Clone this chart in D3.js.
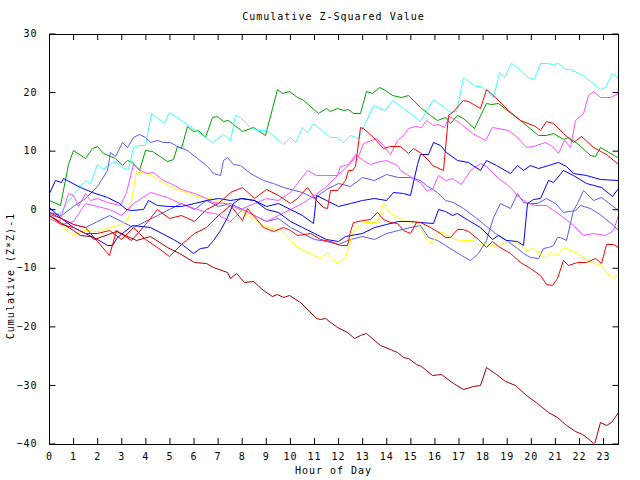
<!DOCTYPE html>
<html><head><meta charset="utf-8">
<script src="https://cdn.jsdelivr.net/npm/d3@7"></script>
<style>
body{margin:0;background:#fff;}
text{font-family:"DejaVu Sans Mono","Liberation Mono",monospace;font-size:10px;letter-spacing:1px;fill:#000;}
</style></head><body>
<svg id="c" width="640" height="480"></svg>
<script>
const title = "Cumulative Z-Squared Value";
const xTitle = "Hour of Day";
const yTitle = "Cumulative (Z*Z)-1";
const hourTicks = d3.range(0, 24);
const valueTicks = [-40, -30, -20, -10, 0, 10, 20, 30];

const sGreen = [[0,1.6],[0.46,0.7],[0.8,7.8],[1.0,10.1],[1.49,8.8],[1.77,10.5],[1.98,10.8],[2.25,9.6],[2.74,8.8],[3.02,7.5],[3.25,8.4],[3.43,8.1],[3.75,6.7],[3.98,10.1],[4.26,9.9],[4.88,8.2],[5.16,8.5],[5.3,10.8],[5.5,10.4],[5.74,14.2],[5.99,13.4],[6.2,13.5],[6.47,12.4],[6.75,15.8],[6.96,15.9],[7.23,15.1],[7.44,15.3],[8.0,13.4],[8.45,14.0],[8.96,12.7],[9.45,20.5],[9.66,19.9],[9.96,20.2],[10.28,19.1],[10.49,18.8],[11.18,16.4],[11.5,17.2],[11.66,16.8],[11.94,17.2],[12.21,16.9],[12.42,17.1],[12.63,16.5],[12.9,16.4],[13.15,20.2],[13.39,19.9],[13.69,20.8],[13.94,20.4],[14.22,19.5],[14.63,19.2],[14.91,19.5],[15.39,17.4],[15.81,16.1],[16.09,15.2],[16.43,15.7],[16.64,14.8],[16.92,16.0],[17.19,15.6],[17.64,13.8],[18.15,18.2],[18.36,17.9],[18.64,18.2],[19.2,16.2],[19.54,15.2],[20.3,12.7],[20.65,12.7],[20.93,13.0],[21.34,12.0],[21.55,12.3],[21.9,11.3],[22.45,9.3],[22.66,9.1],[22.86,10.6],[23.56,9.0],[23.63,8.7]];
const sCyan = [[0,0.3],[0.25,-0.8],[0.5,-0.5],[0.8,1.5],[1.1,3],[1.5,5],[1.7,4.5],[2.0,7.7],[2.23,6.8],[2.39,7.5],[2.74,8.2],[3.08,7.0],[3.29,6.8],[3.5,10.7],[3.75,11.0],[3.98,10.9],[4.23,16.5],[4.77,14.7],[4.99,16.6],[5.71,14.5],[6.47,12.4],[6.75,11.4],[7.23,12.8],[7.51,11.9],[7.72,16.0],[7.93,15.7],[8.34,14.1],[8.62,13.5],[9.03,13.5],[9.72,11.1],[10.0,12.3],[10.2,11.5],[10.49,14.1],[10.69,13.2],[10.97,14.7],[11.66,12.3],[11.94,12.4],[12.21,11.5],[12.49,12.7],[12.83,12.1],[13.46,17.8],[13.94,16.9],[14.22,18.6],[14.98,16.4],[15.39,15.1],[15.92,18.9],[16.43,17.2],[16.64,16.6],[16.89,16.8],[17.17,22.5],[17.67,21.0],[17.95,21.0],[18.44,19.1],[18.67,23.4],[18.88,22.5],[19.16,24.9],[19.41,24.3],[19.89,22.5],[20.14,22.2],[20.4,24.9],[20.65,24.9],[20.93,24.8],[21.13,24.9],[21.41,23.9],[21.62,23.9],[22.17,22.9],[22.86,20.5],[23.07,20.9],[23.39,23.2],[23.63,22.6]];
const sMagentaA = [[0,-1],[0.4,-2],[0.8,2.7],[1.0,2.4],[1.2,0.5],[1.49,2.7],[1.7,1.6],[2.0,2.0],[2.39,1.3],[2.95,0.7],[3.2,3],[3.5,7.8],[3.78,6.7],[4.05,6.1],[4.33,6.4],[4.74,5.0],[5.02,4.4],[5.5,3.5],[6.0,2.7],[6.5,2],[6.82,1.3],[7.3,1],[7.93,0.1],[8.5,1],[9,2],[9.5,1.5],[10,3],[10.28,4.4],[10.69,6.7],[11.1,5.8],[11.52,5.8],[11.94,5.8],[12.08,7.3],[12.42,7.8],[12.7,9.5],[12.83,9.1],[13.04,11.3],[13.59,12.1],[13.87,11.0],[14.15,9.5],[14.43,11.8],[14.7,12.7],[14.91,13.8],[15.19,14.2],[15.46,14.0],[15.67,15.2],[15.92,14.4],[16.15,14.5],[16.4,14.1],[16.61,15.9],[17.05,14.7],[17.54,13.0],[18.09,11.8],[18.41,14.1],[19.06,13.5],[19.41,12.4],[19.82,10.7],[20.1,10.8],[20.58,11.5],[20.86,10.8],[21.13,9.6],[21.38,11.8],[21.62,10.6],[21.83,15.2],[22.17,16.4],[22.38,19.5],[22.59,20.1],[22.86,19.1],[23.28,19.2],[23.63,19.8]];
const sMagentaB = [[0,-1.5],[0.5,-2.5],[1,-2],[1.5,1],[2,0.5],[2.5,0],[3,-1],[3.5,1],[4.19,3.0],[4.88,2.1],[5.43,1.0],[6.0,0.2],[6.54,-0.4],[6.89,-0.7],[7.5,-2],[8,0],[8.5,-1],[9,-2],[9.5,-1],[10,0],[10.5,1],[11,2.5],[11.5,4],[12,6],[12.4,7.5],[12.76,9.3],[13.04,8.4],[13.32,7.8],[13.59,8.1],[14.0,8.4],[14.43,7.5],[14.56,6.7],[15.25,5.0],[15.39,4.7],[15.67,3.3],[15.88,3.4],[16.15,5.8],[16.43,5.0],[16.71,5.3],[17.12,4.3],[17.47,6.7],[17.88,7.9],[18.16,7.3],[18.64,5.3],[19.06,4.1],[19.41,2.4],[19.82,1.3],[20.17,0.7],[20.65,0.7],[20.93,-0.1],[21.34,-1.3],[21.76,-2.7],[22.17,-4.4],[22.59,-4.0],[23.07,-4.4],[23.42,-3.6],[23.63,-1.0]];
const sRedA = [[0,-0.5],[0.5,-1.5],[1,-2.5],[1.5,-3],[2,-5.5],[2.5,-7.8],[2.8,-3.6],[3.4,-5.3],[4,-2.5],[4.5,0],[5,-1.5],[5.5,-1],[6,-2],[6.5,0],[7,1],[7.5,3],[8,3.8],[8.5,2],[9,3.5],[9.5,2.5],[10,1],[10.28,1.9],[10.69,3.8],[11.1,1.6],[11.38,0.4],[11.52,0.2],[11.66,3.3],[11.94,3.3],[12.28,5.0],[12.42,6.7],[12.56,6.7],[12.7,7.3],[12.93,14.0],[13.04,13.8],[13.46,12.4],[13.87,10.4],[14.15,10.8],[14.56,10.8],[14.91,9.6],[15.12,10.4],[15.46,9.6],[15.81,8.1],[15.88,7.5],[16.36,6.7],[16.57,16.1],[16.71,16.6],[17.17,18.6],[17.4,18.5],[17.88,17.2],[18.13,20.5],[18.51,19.1],[19.06,16.9],[19.54,15.2],[20.17,14.2],[20.4,13.5],[20.65,15.1],[20.93,14.8],[21.34,13.0],[21.76,11.4],[22.1,12.5],[22.59,10.7],[23.14,9.5],[23.63,7.8]];
const sRedB = [[0,-1],[0.5,-2.5],[1,-3],[1.5,-4],[2,-4],[2.5,-3.5],[3,-5],[3.5,-3],[4,-5],[4.5,-6.5],[5,-8],[5.5,-6],[6,-4],[6.5,-3],[7,-1],[7.51,0.7],[8.0,-1.8],[8.2,0.2],[8.89,-3.0],[9.31,-3.8],[9.72,-3.1],[10.0,-3.6],[10.28,-4.4],[10.83,-4.1],[11.24,-5.0],[11.66,-5.5],[12.07,-6.1],[12.35,-6.1],[12.49,-3.8],[12.63,-2.1],[13.04,-1.8],[13.32,-1.6],[13.6,-0.4],[13.87,-1.6],[14.15,-2.1],[14.43,-2.4],[14.7,-3.6],[14.98,-4.1],[15.25,-2.1],[15.39,-2.1],[15.81,-3.0],[16.22,-4.1],[16.43,-4.8],[16.64,-4.8],[16.92,-3.3],[17.19,-3.4],[17.4,-3.8],[17.81,-5.0],[18.15,-6.4],[18.37,-5.4],[18.64,-6.3],[19.13,-7.5],[19.54,-9.0],[19.96,-10.1],[20.37,-11.2],[20.65,-12.7],[20.9,-12.9],[21.07,-11.8],[21.34,-8.7],[21.55,-9.5],[21.9,-9.0],[22.31,-9.0],[22.66,-8.4],[22.93,-9.2],[23.14,-5.9],[23.42,-5.9],[23.63,-6.4]];
const sDarkRed = [[0,-1.0],[0.46,-2.1],[1.0,-3.6],[1.3,-4.4],[1.7,-4.6],[1.85,-5.0],[2.8,-3.8],[3.6,-5.3],[4.2,-4.6],[4.9,-6.4],[5.4,-7.5],[6.0,-9.0],[6.5,-9.2],[6.8,-9.9],[7.4,-10.7],[7.5,-11.8],[7.75,-10.9],[8.1,-12.4],[8.45,-12.3],[8.89,-13.8],[9.24,-14.9],[9.45,-14.5],[9.72,-15.0],[9.97,-14.7],[10.41,-15.8],[11.1,-18.5],[11.24,-18.8],[11.45,-18.5],[11.94,-20.1],[12.35,-21.0],[12.65,-22.0],[12.9,-21.5],[13.15,-21.2],[13.73,-23.2],[14.15,-23.9],[14.43,-24.3],[14.7,-25.2],[14.9,-25.4],[15.25,-26.4],[15.46,-26.8],[15.88,-28.3],[16.29,-28.2],[16.78,-29.6],[17.17,-30.7],[17.61,-30.1],[17.91,-30.0],[18.13,-26.9],[18.57,-28.2],[18.92,-29.3],[19.34,-30.0],[19.82,-31.7],[20.24,-33.1],[20.72,-34.7],[21.07,-35.4],[21.48,-36.8],[21.83,-37.8],[22.13,-38.3],[22.45,-39.4],[22.61,-40.0],[22.86,-36.4],[23.11,-36.8],[23.35,-36.3],[23.63,-34.6]];
const sBlueA = [[0,2.8],[0.25,5.0],[0.5,4.7],[0.6,5.3],[1.3,3.8],[1.8,3.0],[2.4,2.1],[2.9,1.0],[3.2,0],[3.4,-0.1],[3.9,0],[4.12,1.6],[4.5,0.8],[5,0.5],[5.5,0.5],[6,1],[6.5,1.5],[7,2],[7.5,1.5],[8,2],[8.5,1.5],[9,0.5],[9.5,1],[10,0],[10.5,-1],[10.95,-2.4],[11.1,2.4],[11.5,1.5],[12,0.5],[12.5,1],[13,1.5],[13.5,2],[14,1.5],[14.29,3.0],[14.7,2.7],[14.98,2.4],[15.26,7.8],[15.39,9.5],[15.74,9.4],[15.92,11.5],[16.22,11.0],[16.5,9.8],[16.92,8.4],[17.4,8.1],[17.88,6.7],[18.15,8.4],[18.57,7.5],[19.13,6.2],[19.41,7.5],[19.68,6.7],[19.96,7.5],[20.3,7.1],[20.72,7.5],[21.13,8.1],[21.48,7.3],[21.76,6.1],[22.31,5.8],[22.86,5.1],[23.63,5.0]];
const sBlueB = [[0,0.3],[0.5,-1.5],[1,-3],[1.5,-4],[2,-5],[2.39,-6.1],[2.6,-6.1],[2.81,-4.7],[3.43,-2.7],[4.19,-3.0],[5.16,-5.0],[5.57,-6.1],[5.99,-7.4],[6.27,-6.7],[6.54,-6.4],[6.82,-5.3],[7.1,-3.6],[7.37,-1.3],[7.65,1.0],[7.93,1.9],[8.5,1.5],[9,0],[9.5,-0.5],[10,-2],[10.5,-3],[11,-4],[11.5,-5],[12,-5.5],[12.3,-4.5],[13,-4],[13.5,-3],[14,-2.5],[14.5,-2],[15,-2],[15.39,-2.1],[15.95,-2.4],[16.15,0.1],[16.43,-0.3],[16.71,-1.0],[16.92,-0.7],[17.4,-1.8],[17.88,-3.0],[18.37,-5.0],[18.64,-4.4],[18.99,-5.3],[19.41,-5.5],[19.68,-6.1],[19.85,1.0],[20.1,1.7],[20.37,1.9],[20.72,5.0],[20.93,4.7],[21.34,6.7],[21.76,5.8],[22.31,4.4],[22.93,3.8],[23.39,2.3],[23.63,3.7]];
const sYellow = [[0,-1],[0.46,-2.7],[1.0,-4.4],[1.42,-3.6],[2.05,-3.8],[2.5,-3],[3,-2.5],[3.3,-1.5],[3.6,6.5],[4.2,6],[5,4],[6,2.5],[7,1.5],[7.51,0.7],[7.93,-0.1],[8.89,-2.7],[9.45,-3.6],[9.59,-3.3],[10.28,-6.4],[11.24,-8.4],[11.52,-7.3],[11.94,-9.2],[12.28,-8.1],[12.63,-3.8],[13.04,-2.1],[13.6,-2.1],[13.87,1.0],[14.15,-0.7],[14.7,-1.8],[15.26,-2.4],[15.74,-5.5],[15.88,-5.8],[16.15,-3.8],[16.43,-4.1],[16.78,-5.0],[17.19,-5.3],[17.61,-5.3],[17.81,-6.1],[18.16,-5.8],[18.57,-6.4],[19.13,-5.0],[19.54,-6.1],[19.82,-7.0],[20.1,-6.7],[20.58,-8.4],[20.79,-7.3],[21.07,-7.8],[21.34,-6.4],[21.9,-7.5],[22.45,-9.0],[22.93,-9.5],[23.35,-11.8],[23.63,-11.1]];
const sSlateA = [[0,-0.5],[0.5,-1],[1,0.5],[1.5,2],[2,4],[2.39,6.7],[2.53,9.8],[2.74,9.1],[3.02,11.4],[3.25,10.7],[3.5,12.4],[3.75,12.8],[3.98,12.4],[4.19,11.4],[4.47,11.9],[4.74,11.4],[5.02,11.5],[5.3,10.8],[5.71,10.1],[6.13,8.7],[6.54,7.3],[6.82,6.1],[7.1,5.8],[7.23,8.4],[7.37,9.0],[7.65,7.8],[7.93,7.5],[8.34,6.1],[8.89,5.0],[9.31,4.4],[9.72,3.8],[10.5,3],[11,2],[11.5,3.5],[12,4.5],[12.5,4],[13,5.5],[13.5,5],[14,6],[14.5,5.5],[15,5.5],[15.39,5.0],[15.67,4.1],[16.09,3.0],[16.43,1.6],[16.78,1.3],[17.19,0.2],[17.68,-1.3],[18.09,-2.7],[18.51,-4.1],[18.99,-5.3],[19.41,-6.7],[19.68,-7.5],[19.96,-8.1],[20.3,-8.4],[20.51,-6.7],[20.72,-6.4],[20.93,-6.1],[21.07,-4.7],[21.2,-4.7],[21.48,-5.3],[21.76,-0.1],[21.9,1.0],[22.17,3.3],[22.59,1.6],[22.93,2.1],[23.63,-0.1]];
const sSlateB = [[0,-0.8],[0.5,-1.5],[1,-2.5],[1.5,-3],[2,-2],[2.5,-1],[3,-2],[3.5,-3],[4,-2],[4.5,-1],[5,0],[5.5,1],[6,0],[6.5,1.5],[7,0.5],[7.5,1],[8,0],[8.5,-1],[9,-2],[9.5,-1.5],[10,-3],[10.5,-4],[11,-5],[11.5,-5.5],[12,-6],[12.5,-5],[13,-4.5],[13.5,-5],[14,-4],[14.5,-3.5],[15,-3],[15.39,-2.7],[15.74,-4.7],[16.09,-5.3],[16.43,-6.1],[16.78,-7.0],[17.12,-7.8],[17.47,-8.7],[17.81,-7.5],[18.16,-5.3],[18.44,-1.3],[18.71,1.0],[19.13,0.2],[19.41,2.7],[19.68,1.3],[19.96,1.0],[20.24,1.0],[20.65,1.9],[21.0,1.0],[21.34,-0.4],[21.83,-0.1],[22.03,0.7],[22.45,0.2],[22.93,-1.0],[23.42,-2.7],[23.63,-3.6]];

const series = [
  {data: sGreen, color: "#00a000"},
  {data: sCyan, color: "#40ffff"},
  {data: sSlateA, color: "#5a5aff"},
  {data: sSlateB, color: "#5a5aff"},
  {data: sYellow, color: "#ffff00"},
  {data: sMagentaA, color: "#ff50ff"},
  {data: sMagentaB, color: "#ff50ff"},
  {data: sBlueA, color: "#0000ff"},
  {data: sBlueB, color: "#0000ff"},
  {data: sRedB, color: "#ff0000"},
  {data: sRedA, color: "#ff0000"},
  {data: sDarkRed, color: "#a00000"}
];

const W = 640, H = 480;
const m = {l: 49, r: 22, t: 33.5, b: 36.5};
const x = d3.scaleLinear().domain([0, 23.62]).range([m.l, W - m.r]);
const y = d3.scaleLinear().domain([-40, 30]).range([H - m.b, m.t]);
const svg = d3.select("#c");

svg.append("text").attr("x", (m.l + W - m.r) / 2).attr("y", 20).attr("text-anchor", "middle").text(title);
svg.append("text").attr("x", (m.l + W - m.r) / 2).attr("y", 474).attr("text-anchor", "middle").text(xTitle);
svg.append("text").attr("transform", "translate(14,276) rotate(-90)").attr("text-anchor", "middle").text(yTitle);

svg.append("clipPath").attr("id", "pc").append("rect")
  .attr("x", m.l).attr("y", m.t).attr("width", W - m.r - m.l).attr("height", H - m.b - m.t);

const line = d3.line().x(d => Math.round(x(d[0])) + 0.5).y(d => Math.round(y(d[1])) + 0.5);
const lines = svg.append("g").attr("clip-path", "url(#pc)");
series.forEach(s => {
  lines.append("path").attr("d", line(s.data)).attr("fill", "none")
    .attr("stroke", s.color).attr("stroke-width", 1);
});

const axL = d3.axisLeft(y).tickValues(valueTicks).tickSize(-6).tickPadding(12).tickFormat(d3.format("d"));
const axR = d3.axisRight(y).tickValues(valueTicks).tickSize(-6).tickFormat("");
const axB = d3.axisBottom(x).tickValues(hourTicks).tickSize(-6).tickPadding(9);
const axT = d3.axisTop(x).tickValues(hourTicks).tickSize(-6).tickFormat("");
function style(sel){ sel.select(".domain").remove(); sel.selectAll("line").attr("stroke","#000"); sel.selectAll("text").attr("font-size", null).attr("font-family", null); }
svg.append("g").attr("transform", "translate(" + (m.l + 0.5) + ",0)").call(axL).call(style);
svg.append("g").attr("transform", "translate(" + (W - m.r + 0.5) + ",0)").call(axR).call(style);
svg.append("g").attr("transform", "translate(0," + (H - m.b + 0.5) + ")").call(axB).call(style);
svg.append("g").attr("transform", "translate(0," + (m.t + 0.5) + ")").call(axT).call(style);
svg.append("rect").attr("x", m.l + 0.5).attr("y", m.t + 0.5).attr("width", W - m.r - m.l).attr("height", H - m.b - m.t)
  .attr("fill", "none").attr("stroke", "#000").attr("shape-rendering", "crispEdges");
</script></body></html>
